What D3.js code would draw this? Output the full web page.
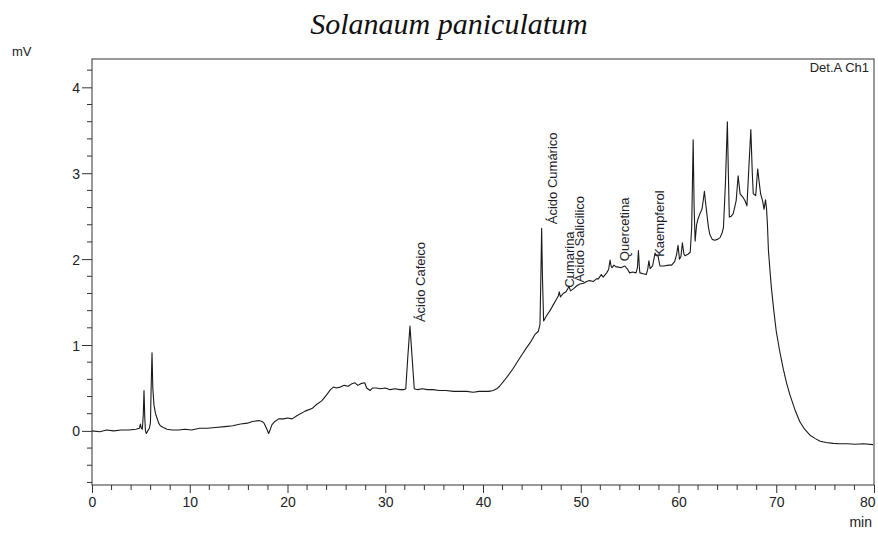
<!DOCTYPE html>
<html>
<head>
<meta charset="utf-8">
<script src="https://cdn.jsdelivr.net/npm/d3@7/dist/d3.min.js"></script>
<style>
  html, body { margin: 0; padding: 0; background: #fff; }
  svg { display: block; }
  text { font-family: "Liberation Sans", Arial, sans-serif; fill: #222; }
</style>
</head>
<body>
<svg id="chart" width="878" height="537"></svg>
<script>
// Chromatogram trace: retention time (min) and detector signal (mV)
const retentionTime = [
  0.0, 0.8, 1.5, 2.2, 3.0, 3.8, 4.5, 4.85, 4.95, 5.05, 5.15, 5.25, 5.32, 5.40, 5.47, 5.56, 5.70, 5.87, 5.98, 6.05,
  6.14, 6.22, 6.34, 6.50, 6.65, 6.82, 6.99, 7.3, 7.67, 8.2, 8.87, 9.5, 10.2, 11.0, 11.8, 12.6, 13.6, 14.4, 15.2, 15.9,
  16.4, 17.05, 17.4, 17.6, 17.85, 18.07, 18.25, 18.4, 18.7, 19.1, 19.6, 20.0, 20.46, 21.0, 21.8, 22.5, 23.0, 23.5, 24.0, 24.4,
  24.7, 25.0, 25.4, 25.8, 26.2, 26.6, 26.9, 27.2, 27.5, 27.9, 28.1, 28.45, 28.7, 29.1, 29.5, 30.0, 30.5, 31.0, 31.5, 31.9,
  32.1, 32.3, 32.53, 32.75, 32.97, 33.3, 33.8, 34.3, 34.9, 35.5, 36.2, 37.0, 37.6, 38.3, 39.0, 39.6, 40.2, 40.6, 41.05, 41.4,
  41.7, 42.2, 42.6, 43.1, 43.6, 44.0, 44.46, 44.9, 45.3, 45.66, 45.83, 45.92, 46.0, 46.08, 46.2, 46.5, 46.85, 47.2, 47.5, 47.7,
  47.8, 47.92, 48.2, 48.5, 48.8, 48.95, 49.3, 49.6, 49.9, 50.3, 50.6, 50.9, 51.3, 51.6, 51.8, 52.1, 52.3, 52.65, 52.85, 53.0,
  53.1, 53.2, 53.4, 53.6, 53.75, 54.1, 54.5, 54.8, 55.0, 55.3, 55.65, 55.8, 55.9, 56.0, 56.05, 56.4, 56.7, 56.85, 56.97, 57.1,
  57.35, 57.6, 57.75, 57.9, 58.1, 58.5, 59.0, 59.3, 59.6, 59.8, 59.95, 60.1, 60.25, 60.4, 60.55, 60.66, 61.0, 61.2, 61.35, 61.5,
  61.6, 61.7, 61.85, 62.0, 62.2, 62.4, 62.55, 62.65, 62.75, 62.9, 63.05, 63.2, 63.45, 63.7, 64.0, 64.25, 64.45, 64.6, 64.8, 65.0,
  65.1, 65.2, 65.4, 65.6, 65.9, 66.1, 66.3, 66.6, 66.8, 67.0, 67.2, 67.4, 67.55, 67.65, 67.9, 68.1, 68.25, 68.4, 68.6, 68.75,
  68.9, 69.0, 69.1, 69.2, 69.35, 69.5, 69.75, 70.0, 70.35, 70.7, 71.05, 71.4, 71.9, 72.4, 72.9, 73.45, 74.0, 74.5, 75.1, 75.8,
  76.5, 77.3, 78.1, 78.9, 79.9
];
const signal = [
  0.00, -0.01, 0.01, 0.00, 0.01, 0.01, 0.02, 0.03, 0.08, 0.03, 0.02, 0.20, 0.47, 0.15, 0.00, -0.03, 0.00, 0.03, 0.10, 0.50,
  0.91, 0.50, 0.30, 0.20, 0.15, 0.09, 0.06, 0.04, 0.02, 0.01, 0.01, 0.02, 0.01, 0.03, 0.03, 0.04, 0.05, 0.06, 0.08, 0.09,
  0.11, 0.12, 0.11, 0.09, 0.03, -0.03, 0.02, 0.07, 0.11, 0.14, 0.14, 0.15, 0.14, 0.18, 0.23, 0.26, 0.31, 0.35, 0.42, 0.48,
  0.51, 0.50, 0.51, 0.53, 0.52, 0.55, 0.56, 0.53, 0.55, 0.56, 0.50, 0.47, 0.50, 0.50, 0.49, 0.50, 0.48, 0.49, 0.48, 0.48,
  0.49, 0.85, 1.22, 0.85, 0.49, 0.48, 0.49, 0.48, 0.48, 0.47, 0.47, 0.46, 0.46, 0.46, 0.45, 0.46, 0.46, 0.46, 0.47, 0.49,
  0.52, 0.59, 0.65, 0.73, 0.82, 0.89, 0.97, 1.04, 1.12, 1.16, 1.24, 1.80, 2.36, 1.80, 1.28, 1.34, 1.40, 1.47, 1.53, 1.57,
  1.62, 1.56, 1.60, 1.62, 1.68, 1.63, 1.66, 1.69, 1.71, 1.72, 1.74, 1.75, 1.74, 1.77, 1.77, 1.82, 1.79, 1.84, 1.88, 1.99,
  1.92, 1.90, 1.93, 1.91, 1.91, 1.90, 1.92, 1.88, 1.84, 1.85, 1.84, 1.90, 2.10, 1.90, 1.84, 1.83, 1.82, 1.88, 1.98, 1.89,
  1.92, 2.07, 2.04, 2.04, 1.92, 1.92, 1.93, 1.93, 1.97, 2.05, 2.16, 2.00, 2.03, 2.19, 2.06, 2.04, 2.06, 2.08, 2.37, 3.39,
  2.60, 2.21, 2.40, 2.47, 2.53, 2.58, 2.70, 2.79, 2.68, 2.53, 2.38, 2.29, 2.23, 2.22, 2.23, 2.25, 2.30, 2.37, 2.88, 3.60,
  3.00, 2.49, 2.50, 2.53, 2.68, 2.97, 2.76, 2.72, 2.68, 2.62, 3.07, 3.51, 3.00, 2.76, 2.74, 3.05, 2.90, 2.76, 2.68, 2.58,
  2.69, 2.60, 2.40, 2.10, 1.88, 1.67, 1.40, 1.16, 0.93, 0.73, 0.56, 0.42, 0.25, 0.11, 0.02, -0.05, -0.09, -0.12, -0.135, -0.145,
  -0.15, -0.15, -0.155, -0.15, -0.16
];

// Identified compounds and their retention times (min)
const peakNames = ["Ácido Cafeico", "Ácido Cumárico", "Cumarina", "Ácido Salicilico", "Quercetina", "Kaempferol"];
const peakTimes = [32.53, 46.0, 47.8, 48.8, 53.4, 56.97];

const xTicks = [0, 10, 20, 30, 40, 50, 60, 70, 80];
const yTicks = [0, 1, 2, 3, 4];

const svg = d3.select("#chart");
const margin = { left: 92, right: 4, top: 59, bottom: 52 };
const W = 878, H = 537;

const x = d3.scaleLinear().domain([0, 80]).range([margin.left, W - margin.right]);
const y = d3.scaleLinear().domain([-0.63, 4.33]).range([H - margin.bottom, margin.top]);

// Title
svg.append("text")
  .attr("x", 449).attr("y", 34)
  .attr("text-anchor", "middle")
  .style("font-family", "'Liberation Serif', 'Times New Roman', serif")
  .style("font-style", "italic")
  .style("font-size", "30px")
  .style("fill", "#111")
  .text("Solanaum paniculatum");

// Frame
svg.append("rect")
  .attr("x", x(0)).attr("y", y(4.33))
  .attr("width", x(80) - x(0)).attr("height", y(-0.63) - y(4.33))
  .attr("fill", "none").attr("stroke", "#333").attr("stroke-width", 1);

// Y axis
const yAxis = d3.axisLeft(y).tickValues(yTicks).tickFormat(d3.format("d")).tickSize(10).tickSizeOuter(0);
const gy = svg.append("g").attr("transform", `translate(${x(0)},0)`).call(yAxis);
gy.select(".domain").remove();
gy.selectAll("line").attr("stroke", "#333");
gy.selectAll("text").style("font-size", "14px").attr("x", -12).attr("dy", "0.36em");
const yMinor = d3.range(-0.6, 4.3, 0.2).filter(v => Math.abs(v - Math.round(v)) > 0.01);
svg.append("g").selectAll("line").data(yMinor).join("line")
  .attr("x1", x(0) - 5).attr("x2", x(0))
  .attr("y1", d => y(d)).attr("y2", d => y(d))
  .attr("stroke", "#333");

// X axis
const xAxis = d3.axisBottom(x).tickValues(xTicks).tickFormat(d3.format("d")).tickSize(8).tickSizeOuter(0);
const gx = svg.append("g").attr("transform", `translate(0,${y(-0.63)})`).call(xAxis);
gx.select(".domain").remove();
gx.selectAll("line").attr("stroke", "#333");
gx.selectAll("text").style("font-size", "14px").attr("y", 12);
// keep the last label inside the page edge
gx.selectAll(".tick").filter(d => d === 80).select("text")
  .attr("text-anchor", "end").attr("x", 1);
const xMinor = d3.range(2, 80, 2).filter(v => v % 10 !== 0);
svg.append("g").selectAll("line").data(xMinor).join("line")
  .attr("x1", d => x(d)).attr("x2", d => x(d))
  .attr("y1", y(-0.63)).attr("y2", y(-0.63) + 5)
  .attr("stroke", "#333");

// Axis units
svg.append("text").attr("x", 12).attr("y", 56).style("font-size", "13px").text("mV");
svg.append("text").attr("x", 872).attr("y", 527).attr("text-anchor", "end").style("font-size", "14px").text("min");
svg.append("text").attr("x", 869).attr("y", 72).attr("text-anchor", "end").style("font-size", "13px").text("Det.A Ch1");

// Trace
const trace = retentionTime.map((t, i) => [t, signal[i]]);
svg.append("path")
  .datum(trace)
  .attr("fill", "none")
  .attr("stroke", "#1a1a1a")
  .attr("stroke-width", 1.1)
  .attr("stroke-linejoin", "round")
  .attr("d", d3.line().x(d => x(d[0])).y(d => y(d[1])));

// Peak labels, placed just above each apex
peakNames.forEach((name, i) => {
  const t = peakTimes[i];
  const apex = d3.max(trace.filter(d => Math.abs(d[0] - t) <= 0.15), d => d[1]);
  const px = x(t) + 15;
  const py = y(apex) - 4;
  svg.append("text")
    .attr("transform", `translate(${px},${py}) rotate(-90)`)
    .style("font-size", "13px")
    .style("fill", "#1c1c2a")
    .text(name);
});
</script>
</body>
</html>
